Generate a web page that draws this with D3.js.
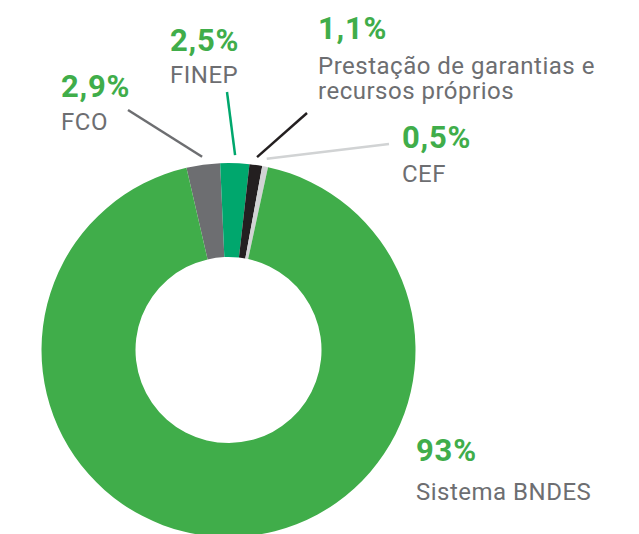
<!DOCTYPE html>
<html lang="pt">
<head>
    <meta charset="UTF-8">
    <title>Fontes de recursos</title>
    <style>
        body {
            margin: 0;
            background-color: #ffffff;
            overflow: hidden;
        }

        .pct {
            font-family: Roboto, "Noto Sans", sans-serif;
            font-weight: 700;
            font-size: 31px;
            letter-spacing: 0.8px;
            fill: #40ad4a;
        }

        .name {
            font-family: Roboto, "Noto Sans", sans-serif;
            font-weight: 400;
            font-size: 24px;
            letter-spacing: 0.5px;
            fill: #6d6e71;
        }
    </style>
    <script src="https://d3js.org/d3.v7.min.js"></script>
</head>
<body>
    <div id="chart"></div>

    <script>
        // data
        const sources = ["FCO", "FINEP", "Prestação de garantias e recursos próprios", "CEF", "Sistema BNDES"];
        const shares = [2.9, 2.5, 1.1, 0.5, 93];
        const shareLabels = ["2,9%", "2,5%", "1,1%", "0,5%", "93%"];
        const nameLines = [["FCO"], ["FINEP"], ["Prestação de garantias e", "recursos próprios"], ["CEF"], ["Sistema BNDES"]];
        const colors = ["#6d6e71", "#00a76d", "#231f20", "#d1d3d4", "#40ad4a"];

        // where each label block sits (pct baseline x/y, gap to the name) and where its leader line ends
        const labelPos = [
            { x: 61, y: 97, gap: 33, lineTo: [128, 110] },
            { x: 170, y: 51, gap: 32, lineTo: [227, 92] },
            { x: 318, y: 39, gap: 35, lineTo: [307, 113] },
            { x: 402, y: 148, gap: 34, lineTo: [389, 144] },
            { x: 416, y: 461, gap: 39, lineTo: null }
        ];

        const width = 639;
        const height = 534;
        const cx = 228.5, cy = 350;
        const outerR = 187, innerR = 93;

        const svg = d3.select("#chart")
            .append("svg")
            .attr("width", width)
            .attr("height", height);

        const g = svg.append("g")
            .attr("transform", `translate(${cx},${cy})`);

        const startDeg = -13;
        const pie = d3.pie()
            .sort(null)
            .value(d => d)
            .startAngle(startDeg * Math.PI / 180)
            .endAngle((startDeg + 360) * Math.PI / 180);

        const arcs = pie(shares);

        const arc = d3.arc()
            .innerRadius(innerR)
            .outerRadius(outerR);

        const lineArc = d3.arc()
            .innerRadius(195)
            .outerRadius(195);

        g.selectAll("path.slice")
            .data(arcs)
            .enter().append("path")
            .attr("class", "slice")
            .attr("d", arc)
            .attr("fill", (d, i) => colors[i]);

        // leader lines
        arcs.forEach((d, i) => {
            const p = labelPos[i];
            if (!p.lineTo) return;
            const c = lineArc.centroid(d);
            svg.append("line")
                .attr("x1", cx + c[0])
                .attr("y1", cy + c[1])
                .attr("x2", p.lineTo[0])
                .attr("y2", p.lineTo[1])
                .attr("stroke", colors[i])
                .attr("stroke-width", 2.5);
        });

        // labels
        sources.forEach((s, i) => {
            const p = labelPos[i];
            svg.append("text")
                .attr("class", "pct")
                .attr("x", p.x)
                .attr("y", p.y)
                .text(shareLabels[i]);

            nameLines[i].forEach((ln, k) => {
                svg.append("text")
                    .attr("class", "name")
                    .attr("x", p.x)
                    .attr("y", p.y + p.gap + k * 24.5)
                    .text(ln);
            });
        });
    </script>
</body>
</html>
